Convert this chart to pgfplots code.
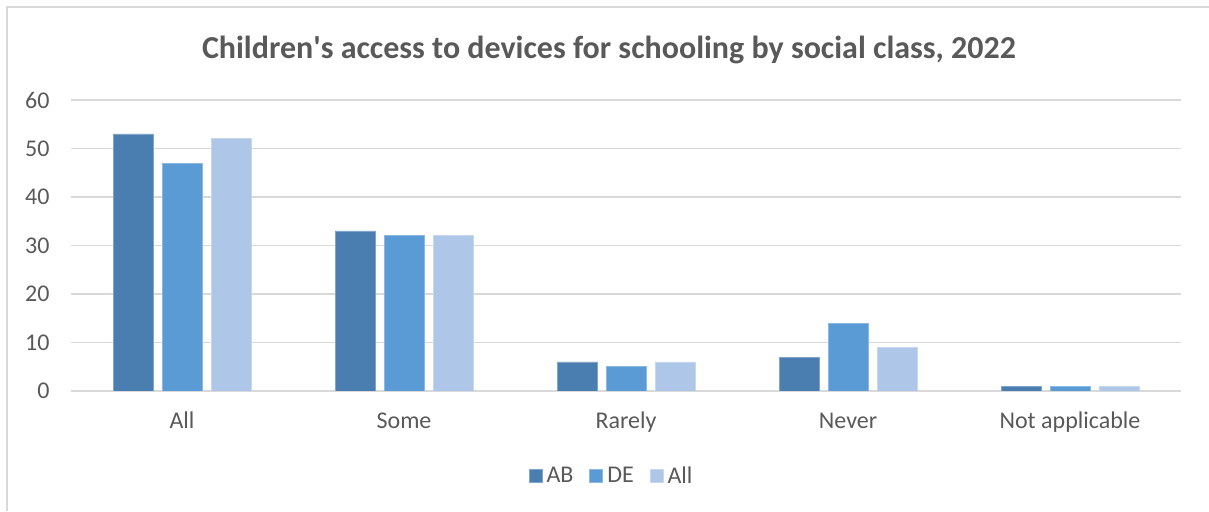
\documentclass[border=0pt]{standalone}
\usepackage{fontspec}
\setmainfont{Carlito}
\usepackage{pgfplots}
\pgfplotsset{compat=1.18}
\definecolor{cAB}{RGB}{74,126,176}
\definecolor{cDE}{RGB}{91,155,213}
\definecolor{cAll}{RGB}{174,198,231}
\definecolor{txt}{RGB}{89,89,89}
\definecolor{grd}{RGB}{217,217,217}
\begin{document}
\begin{tikzpicture}[x=1pt,y=1pt]
\useasboundingbox (0,0) rectangle (1209,511);
\draw[grd, line width=2pt] (7,0) -- (7,504) -- (1209,504);
\node[anchor=base, text=txt, font=\fontsize{32}{38}\selectfont\bfseries] at (609,452) {Children\textquotesingle s access to devices for schooling by social class, 2022};
\begin{axis}[
  at={(71pt,120pt)}, anchor=south west,
  scale only axis, width=1110pt, height=291pt,
  ybar=9pt, bar width=40pt,
  xmin=-0.5, xmax=4.5, ymin=0, ymax=60,
  xtick={0,1,2,3,4},
  xticklabels={All,Some,Rarely,Never,Not applicable},
  ytick={0,10,20,30,40,50,60},
  ymajorgrids, grid style={grd, line width=1.3pt},
  axis line style={draw=none},
  major tick length=0pt,
  tick label style={text=txt, font=\fontsize{24}{28}\selectfont},
  /pgf/number format/assume math mode=true,
  xticklabel style={anchor=base, yshift=-37pt},
  yticklabel style={xshift=-18pt},
  legend style={at={(0.487,-0.292)}, anchor=center, draw=none, legend columns=-1, font=\fontsize{24}{28}\selectfont, text=txt,
    /tikz/every odd column/.append style={column sep=2pt},
    /tikz/every even column/.append style={column sep=14pt}},
  legend image code/.code={\fill[#1] (0pt,-6.5pt) rectangle (13pt,6.5pt);},
]
\addplot[fill=cAB, draw=cAB!70!white, line width=0.8pt] coordinates {(0,53) (1,33) (2,6) (3,7) (4,1)};
\addplot[fill=cDE, draw=cDE!70!white, line width=0.8pt] coordinates {(0,47) (1,32) (2,5) (3,14) (4,1)};
\addplot[fill=cAll, draw=cAll!70!white, line width=0.8pt] coordinates {(0,52) (1,32) (2,6) (3,9) (4,1)};
\legend{AB,DE,All}
\end{axis}
\end{tikzpicture}
\end{document}
